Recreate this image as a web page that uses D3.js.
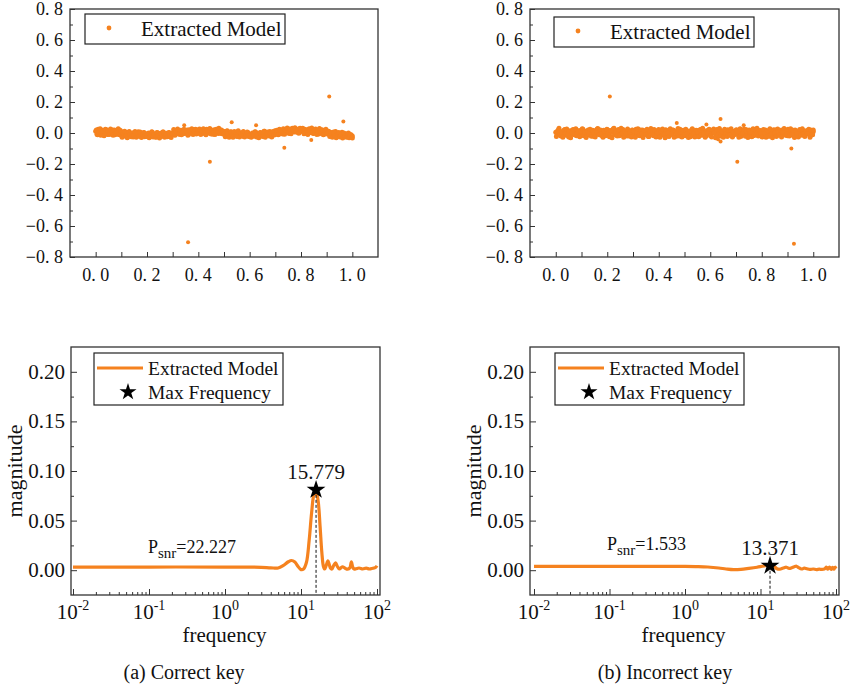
<!DOCTYPE html>
<html>
<head>
<meta charset="utf-8">
<script src="https://cdn.jsdelivr.net/npm/d3@7"></script>
<style>
  body { margin: 0; background: #fff; }
  svg text { font-family: "Liberation Serif", "DejaVu Serif", serif; fill: #111; }
</style>
</head>
<body>
<svg id="chart" width="854" height="690" font-family="Liberation Serif, serif"></svg>
<script>
// ---- data ----
// time-domain samples, y in thousandths, evenly spaced over 0..1
const bandLeft = [
  12,-8,25,3,-15,18,7,-4,22,-10,9,15,-6,20,2,-12,14,5,-9,17,
  -14,6,-20,3,-8,-22,10,-16,-3,-25,4,-11,-18,8,-21,-5,-13,2,-24,-9,
  -17,0,-23,-7,5,-19,-12,-26,1,-15,-4,-20,7,-10,-18,-2,-22,4,-13,-6,
  3,-11,10,-3,15,-8,6,18,-5,12,0,20,-9,8,14,-2,22,5,-7,16,
  9,-4,19,2,13,-6,24,7,-1,17,11,-8,21,4,15,-3,10,18,-5,12,
  6,-10,14,-2,-15,8,-7,-18,3,-12,-20,5,-9,-16,1,-22,-6,-13,4,-19,
  -11,-24,-3,-17,6,-14,-8,-21,2,-10,-5,12,-15,0,-7,9,-12,3,-4,14,
  -2,10,-8,16,4,-6,13,1,20,8,-3,18,11,26,6,15,22,3,28,12,
  19,7,24,-1,14,21,5,17,10,-4,20,8,13,-6,15,2,9,-8,11,4,
  -5,8,-12,3,-15,-7,10,-18,-2,-10,-20,5,-14,-22,-6,-16,0,-24,-11,-19
];
// second pass of samples, sitting half a step after the first
const bandLeftB = [
  20,-12,4,28,-5,11,-18,24,0,15,-9,26,6,-14,19,-3,10,27,-11,8,
  -28,-2,12,-19,-30,5,-12,-24,0,-15,9,-27,-6,-20,7,-29,-10,3,-17,-23,
  -4,-30,-14,8,-25,-9,-28,3,-18,-32,-1,-21,6,-27,-11,-24,2,-16,-29,-8,
  22,-14,8,26,-6,17,-12,4,25,-2,13,-15,21,1,27,-10,11,24,-4,19,
  26,-9,15,28,0,-12,22,10,29,-6,18,3,-10,25,14,30,-2,20,7,-8,
  -24,12,-3,-27,7,-16,-28,10,-8,-22,15,-26,-1,-19,9,-25,-11,6,-23,-14,
  -28,0,-18,8,-25,-10,-30,4,-15,-22,11,-27,-5,7,-20,-2,-26,10,-13,-8,
  18,-12,25,-4,12,28,-8,20,32,2,26,-5,30,14,34,7,24,-2,31,16,
  30,-5,22,10,-10,27,4,32,-2,18,26,-9,14,29,0,21,-12,16,25,-6,
  12,-22,-4,-28,6,-17,-30,-8,3,-25,-13,-32,0,-20,-27,-5,-30,-12,-26,-33
];
const bandRight = [
  5,-12,18,-3,-20,10,-8,22,-15,3,-25,14,-6,20,-10,7,-18,12,-2,16,
  -9,24,-4,11,-16,19,1,-13,8,-21,15,-7,26,-1,-11,9,-19,17,4,-14,
  21,-5,13,-22,6,30,-10,2,18,-17,11,-3,23,-12,8,-20,14,0,-8,19,
  -15,7,25,-6,12,-18,3,20,-11,9,-2,16,-23,5,13,-9,22,-4,10,-16,
  1,18,-13,8,-7,21,-19,4,14,-1,-10,17,6,-21,12,-5,24,-14,3,9,
  -17,15,-3,11,-24,7,19,-8,2,-12,16,-6,22,-15,10,0,-19,13,-4,20,
  -9,6,26,-2,-13,17,5,-20,11,-7,14,-16,3,21,-11,8,-1,-18,12,4,
  18,-10,7,-22,15,1,-6,23,-14,9,-3,13,-19,6,20,-8,2,-12,16,-5,
  10,-17,19,-2,8,-21,13,4,-11,17,-7,22,-15,1,11,-9,25,-4,7,-18,
  3,15,-13,9,-6,20,-20,5,12,-1,-10,18,-16,6,14,-8,-3,19,-12,8
];
const bandRightB = [
  -22,14,30,-8,7,-27,19,-2,26,-15,10,-30,3,22,-12,28,-5,15,-24,9,
  27,-18,4,-29,12,-6,25,-21,17,0,-26,8,29,-11,20,-3,-28,13,-17,24,
  -1,-24,16,-30,28,-9,5,-20,23,-14,31,-2,-27,11,-7,26,-19,6,-25,18,
  12,-28,3,27,-16,20,-5,-29,15,-10,24,-23,8,29,-3,-18,17,-26,1,22,
  -27,9,26,-13,-30,16,0,-22,27,-7,20,-28,11,-4,29,-19,5,-25,18,-10,
  24,-6,-29,13,-20,28,-1,-26,17,6,-24,21,-12,30,-8,-27,14,-2,25,-18,
  -25,19,2,-30,23,-11,29,-17,8,-28,25,-5,-22,16,-14,28,-26,7,-9,21,
  9,-27,28,-13,-3,25,-21,12,-29,20,4,-24,27,-16,-7,30,-20,14,-1,-26,
  23,-4,-28,15,-19,27,-9,-30,21,2,-23,26,-12,17,-25,5,29,-15,-6,24,
  -20,27,-10,18,-29,11,-3,-25,22,-14,28,-7,-22,13,-1,25,-27,16,-11,20
];
// isolated points [t, value]
const outliersLeft = [[0.345,0.05],[0.36,-0.705],[0.445,-0.185],[0.53,0.07],[0.625,0.05],
  [0.735,-0.095],[0.84,-0.045],[0.91,0.235],[0.965,0.075]];
const outliersRight = [[0.21,0.235],[0.47,0.065],[0.585,0.055],[0.63,-0.04],[0.64,0.09],
  [0.64,-0.055],[0.705,-0.185],[0.73,0.05],[0.915,-0.1],[0.925,-0.715]];

// spectra [frequency, magnitude]
const specLeft = [[0.01,0.0032],[0.1,0.0032],[1,0.0032],[2,0.0031],[3,0.0029],[4,0.0024],
  [5,0.0022],[5.8,0.0045],[6.8,0.0085],[7.5,0.0098],[8.3,0.0082],[9.2,0.0035],[10,0.0006],
  [10.8,0.0012],[11.8,0.008],[12.8,0.030],[13.8,0.058],[14.8,0.076],[15.8,0.079],[16.8,0.070],
  [17.8,0.045],[18.8,0.018],[19.7,0.004],[20.5,0.0012],[21.5,0.005],[22.6,0.0095],[23.5,0.006],
  [24.5,0.002],[25.5,0.0012],[27,0.005],[28.5,0.0075],[30,0.004],[32,0.0012],[35,0.0035],
  [38,0.002],[41,0.001],[44,0.0025],[46,0.0085],[48,0.003],[50,0.0012],[53,0.0015],[58,0.0022],
  [65,0.0012],[72,0.002],[80,0.0012],[88,0.002],[95,0.0025],[100,0.0045]];
const specRight = [[0.01,0.0038],[0.1,0.0038],[1,0.0038],[1.5,0.0036],[2,0.0032],[2.8,0.0022],
  [3.5,0.0012],[4.4,0.0005],[5.5,0.0008],[7,0.0018],[9,0.0030],[11,0.0042],[13.4,0.0050],
  [15,0.0040],[16.5,0.0015],[18,0.0010],[20,0.0022],[22,0.0030],[24,0.0018],[26,0.0025],
  [28,0.0035],[30,0.0040],[32,0.0025],[35,0.0012],[38,0.0020],[41,0.0015],[45,0.0008],
  [50,0.0012],[55,0.0006],[60,0.0010],[65,0.0008],[70,0.0012],[75,0.0030],[78,0.0010],
  [82,0.0032],[86,0.0008],[90,0.0028],[94,0.0010],[97,0.0030],[100,0.0015]];

const peakLeft = [15.779, 0.081];
const peakRight = [13.371, 0.0045];
const snrLabels = ["22.227", "1.533"];
const captions = ["(a) Correct key", "(b) Incorrect key"];
const timeTicks = [0, 0.2, 0.4, 0.6, 0.8, 1.0];
const ampTicks = [-0.8, -0.6, -0.4, -0.2, 0, 0.2, 0.4, 0.6, 0.8];
const magTicks = [0, 0.05, 0.10, 0.15, 0.20];
const freqTicks = [0.01, 0.1, 1, 10, 100];

const orange = "#f5821f";
const axisCol = "#333";
const svg = d3.select("#chart");

function frame(g, b) {
  g.append("rect").attr("x", b.x0).attr("y", b.y0)
    .attr("width", b.x1 - b.x0).attr("height", b.y1 - b.y0)
    .attr("fill", "none").attr("stroke", axisCol).attr("stroke-width", 1.3);
}

// ---- top panels: time domain ----
function timePanel(b, band, bandB, outliers, legendX, legendY) {
  const g = svg.append("g");
  const x = d3.scaleLinear().domain([-0.1, 1.1]).range([b.x0, b.x1]);
  const y = d3.scaleLinear().domain([-0.8, 0.8]).range([b.y1, b.y0]);
  const fmt = v => d3.format(".1f")(v).replace("-", "\u2212").replace(".", ". ");

  g.append("g").attr("transform", `translate(0,${b.y1})`)
    .call(d3.axisBottom(x).tickValues(d3.range(0, 1.01, 0.1)).tickSize(-5).tickFormat(""));
  g.append("g").attr("transform", `translate(${b.x0},0)`)
    .call(d3.axisLeft(y).tickValues(d3.range(-0.7, 0.8, 0.2)).tickSize(-3).tickFormat(""));
  g.append("g").attr("transform", `translate(${b.x0},0)`)
    .call(d3.axisLeft(y).tickValues(ampTicks).tickSize(-5).tickFormat(""));
  g.selectAll(".domain").remove();
  g.selectAll(".tick line").attr("stroke", axisCol);

  g.selectAll("text.xt").data(timeTicks).join("text")
    .attr("x", d => x(d)).attr("y", b.y1 + 24)
    .attr("text-anchor", "middle").style("font-size", "18px").text(fmt);
  g.selectAll("text.yt").data(ampTicks).join("text")
    .attr("x", b.x0 - 7).attr("y", d => y(d) + 6)
    .attr("text-anchor", "end").style("font-size", "18px").text(fmt);

  const n = band.length - 1;
  const pts = band.map((v, i) => [i / n, v / 1000])
    .concat(bandB.map((v, i) => [Math.min(1, (i + 0.5) / n), v / 1000]));
  g.selectAll("circle.band").data(pts).join("circle").attr("class", "band")
    .attr("cx", d => x(d[0])).attr("cy", d => y(d[1])).attr("r", 2.5)
    .attr("fill", orange);
  g.selectAll("circle.out").data(outliers).join("circle").attr("class", "out")
    .attr("cx", d => x(d[0])).attr("cy", d => y(d[1])).attr("r", 2)
    .attr("fill", orange);

  frame(g, b);

  // legend
  g.append("rect").attr("x", legendX).attr("y", legendY).attr("width", 200).attr("height", 30)
    .attr("fill", "#fff").attr("stroke", "#222").attr("stroke-width", 1.2);
  g.append("circle").attr("cx", legendX + 24).attr("cy", legendY + 14).attr("r", 2.4).attr("fill", orange);
  g.append("text").attr("x", legendX + 56).attr("y", legendY + 22)
    .style("font-size", "21px").text("Extracted Model");
}

// ---- bottom panels: spectrum ----
function freqPanel(b, xr, spec, peak, snr, legendX, legendY, snrX, snrY, caption, capX) {
  const g = svg.append("g");
  const x = d3.scaleLog().domain([0.01, 100]).range(xr);
  const y = d3.scaleLinear().domain([-0.025, 0.225]).range([b.y1, b.y0]);

  const minor = [];
  [0.01, 0.1, 1, 10].forEach(d => { for (let k = 2; k < 10; k++) minor.push(d * k); });
  g.append("g").attr("transform", `translate(0,${b.y1})`)
    .call(d3.axisBottom(x).tickValues(minor).tickSize(-3).tickFormat(""));
  g.append("g").attr("transform", `translate(0,${b.y1})`)
    .call(d3.axisBottom(x).tickValues(freqTicks).tickSize(-6).tickFormat(""));
  g.append("g").attr("transform", `translate(${b.x0},0)`)
    .call(d3.axisLeft(y).tickValues([0.025, 0.075, 0.125, 0.175]).tickSize(-3).tickFormat(""));
  g.append("g").attr("transform", `translate(${b.x0},0)`)
    .call(d3.axisLeft(y).tickValues(magTicks).tickSize(-6).tickFormat(""));
  g.selectAll(".domain").remove();
  g.selectAll(".tick line").attr("stroke", axisCol);

  const xl = g.selectAll("text.xt").data(freqTicks).join("text")
    .attr("x", d => x(d)).attr("y", b.y1 + 24)
    .attr("text-anchor", "middle").style("font-size", "21px");
  xl.append("tspan").text("10");
  xl.append("tspan").attr("dy", -9).style("font-size", "14px").text(d => String(Math.round(Math.log10(d))));

  g.selectAll("text.yt").data(magTicks).join("text")
    .attr("x", b.x0 - 6).attr("y", d => y(d) + 7)
    .attr("text-anchor", "end").style("font-size", "21px").text(d3.format(".2f"));

  g.append("text").attr("transform", `translate(${b.x0 - 49},${(b.y0 + b.y1) / 2}) rotate(-90)`)
    .attr("text-anchor", "middle").style("font-size", "22px").text("magnitude");
  g.append("text").attr("x", (b.x0 + b.x1) / 2 - 1).attr("y", b.y1 + 47)
    .attr("text-anchor", "middle").style("font-size", "21px").text("frequency");

  const line = d3.line().x(d => x(d[0])).y(d => y(d[1])).curve(d3.curveCatmullRom);
  g.append("path").datum(spec).attr("d", line)
    .attr("fill", "none").attr("stroke", orange).attr("stroke-width", 3.2)
    .attr("stroke-linejoin", "round");

  // peak marker
  g.append("line").attr("x1", x(peak[0])).attr("x2", x(peak[0]))
    .attr("y1", y(peak[1])).attr("y2", b.y1)
    .attr("stroke", "#111").attr("stroke-width", 1).attr("stroke-dasharray", "3,2");
  g.append("path").attr("d", d3.symbol(d3.symbolStar, 110)())
    .attr("transform", `translate(${x(peak[0])},${y(peak[1])})`).attr("fill", "#000");
  g.append("text").attr("x", x(peak[0])).attr("y", y(peak[1]) - 11)
    .attr("text-anchor", "middle").style("font-size", "21px").text(peak[0].toFixed(3));

  const st = g.append("text").attr("x", snrX).attr("y", snrY).style("font-size", "18px");
  st.append("tspan").text("P");
  st.append("tspan").attr("dy", 5).style("font-size", "15px").text("snr");
  st.append("tspan").attr("dy", -5).text("=" + snr);

  frame(g, b);

  // legend
  g.append("rect").attr("x", legendX).attr("y", legendY).attr("width", 189).attr("height", 52)
    .attr("fill", "#fff").attr("stroke", "#222").attr("stroke-width", 1.2);
  g.append("line").attr("x1", legendX + 3).attr("x2", legendX + 49)
    .attr("y1", legendY + 15).attr("y2", legendY + 15)
    .attr("stroke", orange).attr("stroke-width", 3.2);
  g.append("text").attr("x", legendX + 54).attr("y", legendY + 22)
    .style("font-size", "19.5px").text("Extracted Model");
  g.append("path").attr("d", d3.symbol(d3.symbolStar, 90)())
    .attr("transform", `translate(${legendX + 34},${legendY + 39})`).attr("fill", "#000");
  g.append("text").attr("x", legendX + 54).attr("y", legendY + 46)
    .style("font-size", "19.5px").text("Max Frequency");

  svg.append("text").attr("x", capX).attr("y", 679).attr("text-anchor", "middle")
    .style("font-size", "20px").text(caption);
}

timePanel({x0: 70, x1: 378, y0: 9, y1: 257}, bandLeft, bandLeftB, outliersLeft, 85, 14);
timePanel({x0: 530, x1: 839, y0: 9, y1: 257}, bandRight, bandRightB, outliersRight, 554, 17);
freqPanel({x0: 71, x1: 380, y0: 347, y1: 595}, [73, 377], specLeft, peakLeft, snrLabels[0],
  94, 353, 148, 553, captions[0], 184);
freqPanel({x0: 530, x1: 839, y0: 347, y1: 595}, [534, 836], specRight, peakRight, snrLabels[1],
  555, 353, 607, 550, captions[1], 665);
</script>
</body>
</html>
